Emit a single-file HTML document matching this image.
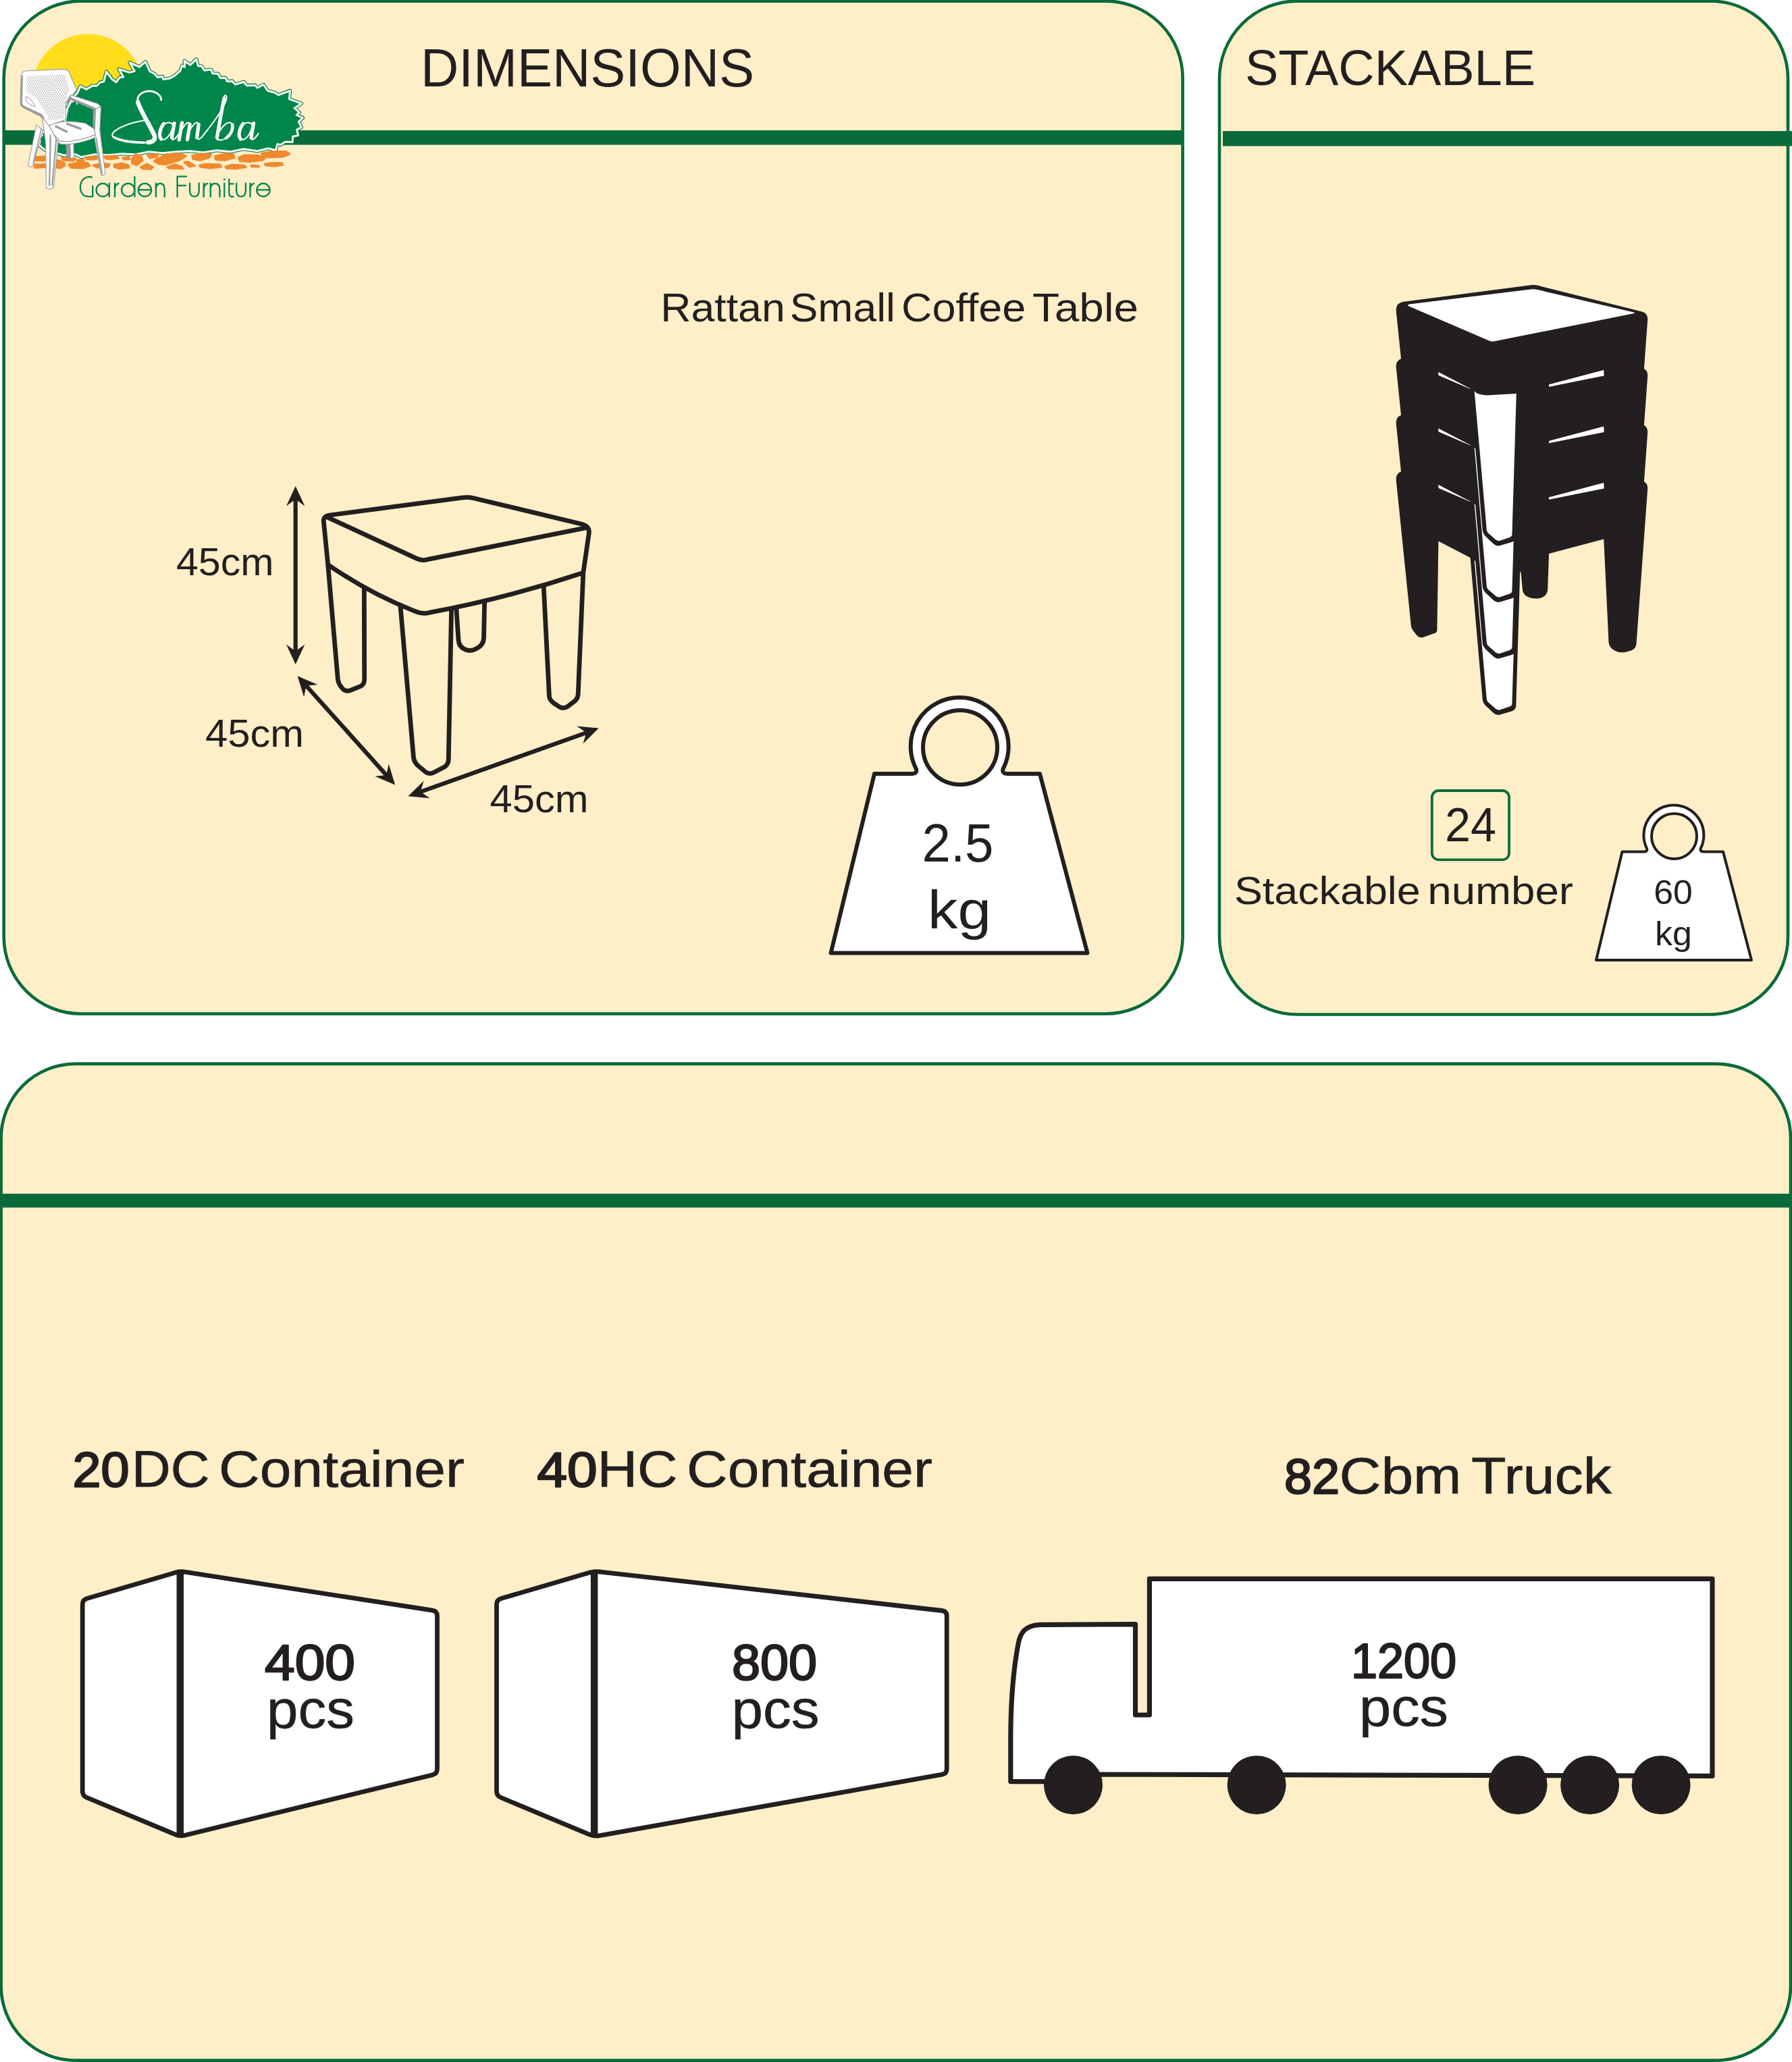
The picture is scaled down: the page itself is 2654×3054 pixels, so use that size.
<!DOCTYPE html>
<html><head><meta charset="utf-8"><title>Samba Garden Furniture - Rattan Small Coffee Table</title>
<style>
html,body{margin:0;padding:0;background:#fff;}
body{width:2654px;height:3054px;overflow:hidden;font-family:"Liberation Sans",sans-serif;}
svg{display:block;}
</style></head><body>
<svg width="2654" height="3054" viewBox="0 0 2654 3054">
<rect x="5.7" y="1.6" width="1745.9" height="1499.9" rx="114" ry="114" fill="#FFEFC8" stroke="#0A6B3A" stroke-width="4.6"/>
<rect x="1806" y="1.6" width="842" height="1500.9" rx="115" ry="115" fill="#FFEFC8" stroke="#0A6B3A" stroke-width="4.6"/>
<rect x="1.6" y="1575.6" width="2650.4" height="1476" rx="110" ry="110" fill="#FFEFC8" stroke="#0A6B3A" stroke-width="4.6"/>
<rect x="4" y="193" width="1749" height="21.5" fill="#0A6B3A"/>
<rect x="1811" y="194.1" width="843" height="22.3" fill="#0A6B3A"/>
<rect x="0" y="1768" width="2654" height="20.5" fill="#0A6B3A"/>
<path d="M 485.7,836.2 L 500.4,1006.8 Q 501.8,1013.9 506.2,1018.4 Q 510.7,1024.6 517.9,1022.9 L 533.5,1016.6 Q 539.7,1013.9 539.7,1005.9 L 539.3,858.6" fill="none" stroke="#231F20" stroke-width="6.8" stroke-linejoin="round" stroke-linecap="round"/>
<path d="M 592.0,886.2 L 612.5,1122.0 Q 613.4,1129.1 619.6,1134.5 L 630.4,1143.4 Q 636.6,1147.9 643.8,1143.4 L 658.9,1135.4 Q 664.3,1131.8 664.3,1124.6 L 668.8,889.8" fill="none" stroke="#231F20" stroke-width="6.8" stroke-linejoin="round" stroke-linecap="round"/>
<path d="M 675.0,889.8 L 679.0,947.9 Q 679.9,957.7 687.5,961.2 Q 695.5,965.7 704.5,961.2 Q 716.1,955.9 716.5,945.2 L 717.9,879.1" fill="none" stroke="#231F20" stroke-width="6.8" stroke-linejoin="round" stroke-linecap="round"/>
<path d="M 804.5,855.0 L 813.4,1030.9 Q 813.8,1037.1 820.5,1041.6 L 828.6,1047.0 Q 834.4,1050.5 841.1,1046.1 L 850.9,1038.5 Q 855.8,1034.5 856.2,1028.2 L 863.8,848.3" fill="none" stroke="#231F20" stroke-width="6.8" stroke-linejoin="round" stroke-linecap="round"/>
<path d="M 485.7,836.2 L 479.5,773.8 Q 477.7,764.8 487.9,763.0 L 684.4,737.1 Q 693.3,735.8 702.2,738.0 L 860.7,776.0 Q 873.2,779.1 872.3,789.4 L 863.8,848.3 Q 750.0,886.2 636.6,907.2 Q 624.1,910.4 612.9,904.6 Q 546.0,878.2 485.7,836.2 Z" fill="#FFEFC8" stroke="#231F20" stroke-width="6.8" stroke-linejoin="round" stroke-linecap="round"/>
<path d="M 483.9,765.7 L 617.4,827.3 Q 624.1,830.9 633.0,828.7 L 867.0,781.8" fill="none" stroke="#231F20" stroke-width="6.8" stroke-linejoin="round" stroke-linecap="round"/>
<line x1="437.7" y1="728.0" x2="437.7" y2="976.0" stroke="#231F20" stroke-width="6.2"/>
<polygon points="437.7,720.0 424.0,749.5 437.7,739.5 451.4,749.5" fill="#231F20"/>
<polygon points="437.7,984.0 424.0,954.5 437.7,964.5 451.4,954.5" fill="#231F20"/>
<line x1="445.9" y1="1007.2" x2="579.9" y2="1156.6" stroke="#231F20" stroke-width="6.2"/>
<polygon points="440.6,1001.2 450.1,1032.3 453.6,1015.7 470.5,1014.0" fill="#231F20"/>
<polygon points="585.2,1162.6 555.3,1149.8 572.2,1148.1 575.7,1131.5" fill="#231F20"/>
<line x1="611.9" y1="1176.6" x2="879.2" y2="1081.3" stroke="#231F20" stroke-width="6.2"/>
<polygon points="604.4,1179.3 636.8,1182.3 622.7,1172.8 627.6,1156.5" fill="#231F20"/>
<polygon points="886.7,1078.6 863.5,1101.4 868.4,1085.1 854.3,1075.6" fill="#231F20"/>
<path d="M1230.5,1411.5 L1295,1146 L1349.9,1146 Q1358.9,1146 1356.9,1139 A72.5,72.5 0 1 1 1485.5,1139 Q1483.5,1146 1492.5,1146 L1540,1146 L1610.5,1411.5 Z" fill="#fff" stroke="#231F20" stroke-width="6" stroke-linejoin="round"/>
<circle cx="1422" cy="1107" r="55" fill="#FFEFC8" stroke="#231F20" stroke-width="6"/>
<path d="M2364,1422 L2402.5,1261.5 L2433.9,1261.5 Q2440.9,1261.5 2438.9,1256.5 A44.5,44.5 0 1 1 2518.9,1256.5 Q2516.9,1261.5 2523.9,1261.5 L2552,1261.5 L2594,1422 Z" fill="#fff" stroke="#231F20" stroke-width="4" stroke-linejoin="round"/>
<circle cx="2479.5" cy="1238.4" r="33.5" fill="#FFEFC8" stroke="#231F20" stroke-width="4"/>
<rect x="2120.8" y="1171" width="114.2" height="102.4" rx="10" ry="10" fill="none" stroke="#0A6B3A" stroke-width="3.8"/>
<path d="M273.7,2328.1 Q266.8,2327.0 260.1,2329.0 L128.9,2367.5 Q122.2,2369.5 122.2,2376.5 L122.2,2652.7 Q122.2,2659.7 128.7,2662.4 L260.3,2717.3 Q266.8,2720 273.6,2718.3 L640.7,2628.7 Q647.5,2627 647.5,2620.0 L647.5,2393.3 Q647.5,2386.3 640.6,2385.2 Z" fill="#fff" stroke="#231F20" stroke-width="6.8" stroke-linejoin="round"/>
<path d="M266.8,2329 L266.8,2718" fill="none" stroke="#231F20" stroke-width="10.5"/>
<path d="M887.1,2327.8 Q880.1,2327.0 873.4,2329.0 L742.2,2367.5 Q735.5,2369.5 735.5,2376.5 L735.5,2652.7 Q735.5,2659.7 742.0,2662.4 L873.6,2717.3 Q880.1,2720 887.0,2718.8 L1395.3,2628.2 Q1402.2,2627 1402.2,2620.0 L1402.2,2393.3 Q1402.2,2386.3 1395.2,2385.5 Z" fill="#fff" stroke="#231F20" stroke-width="6.8" stroke-linejoin="round"/>
<path d="M880.1,2329 L880.1,2718" fill="none" stroke="#231F20" stroke-width="10.5"/>
<path d="M1496.8,2638.6 L1496.8,2571.7 C1497,2520 1500,2478 1507.8,2435.8 C1511,2418 1518,2407.5 1540,2406.3 L1681.5,2405.6 L1681.5,2540 L1702.4,2540 L1702.4,2338.4 L2536,2338.4 L2536,2630.3 L1600,2628 L1590,2638.6 Z" fill="#fff" stroke="#231F20" stroke-width="7.2" stroke-linejoin="round"/>
<circle cx="1589.5" cy="2643.7" r="43.5" fill="#231F20"/>
<circle cx="1861.1" cy="2643.7" r="43.5" fill="#231F20"/>
<circle cx="2248.1" cy="2643.7" r="43.5" fill="#231F20"/>
<circle cx="2354.6" cy="2643.7" r="43.5" fill="#231F20"/>
<circle cx="2460.1" cy="2643.7" r="43.5" fill="#231F20"/>
<path d="M 2067.7,710.7 Q 2067.0,699.6 2078.1,697.6 L 2267.1,672.8 Q 2272.0,671.9 2277.7,673.3 L 2431.6,711.9 Q 2440.7,714.3 2440.2,723.7 L 2423.5,953.7 Q 2423.0,960.4 2415.7,963.6 Q 2400.9,969.0 2391.1,963.6 Q 2383.0,958.6 2382.5,951.3 L 2375.2,798.6 L 2294.1,819.9 L 2292.2,872.7 Q 2291.7,882.5 2281.9,885.7 Q 2270.8,888.2 2262.2,883.8 Q 2255.3,880.1 2254.8,872.7 L 2252.4,846.9 L 2251.2,846.9 L 2245.3,1045.8 Q 2244.8,1051.2 2239.4,1053.2 L 2221.7,1058.6 Q 2216.3,1060.1 2211.9,1056.1 L 2199.6,1044.6 Q 2196.4,1041.4 2195.7,1036.5 L 2177.5,826.1 L 2130.4,801.5 L 2128.4,932.9 Q 2128.4,937.3 2123.5,938.3 L 2107.5,943.9 Q 2101.4,945.1 2097.7,940.2 L 2092.1,932.9 Q 2090.1,930.4 2089.8,926.7 Z" fill="#231F20"/>
<path d="M 2085.4,703.5 Q 2083.7,702.1 2087.9,701.1 L 2267.1,679.0 Q 2272.0,678.2 2276.9,679.5 L 2419.4,712.9 Q 2423.0,713.8 2419.4,714.8 L 2213.1,756.1 Q 2209.4,757.1 2205.7,755.3 Z" fill="#fff"/>
<path d="M 2183.6,829.7 Q 2187.3,835.1 2202.1,835.9 L 2245.8,833.4 L 2239.4,1042.4 Q 2239.1,1045.3 2236.4,1046.3 L 2221.7,1051.2 Q 2218.0,1052.2 2215.1,1049.7 L 2204.0,1039.9 Q 2202.1,1038.0 2201.8,1035.0 Z" fill="#fff"/>
<path d="M 2067.7,627.2 Q 2067.0,616.1 2078.1,614.1 L 2267.1,589.3 Q 2272.0,588.4 2277.7,589.8 L 2431.6,628.4 Q 2440.7,630.8 2440.2,640.2 L 2423.5,870.2 Q 2423.0,876.9 2415.7,880.1 Q 2400.9,885.5 2391.1,880.1 Q 2383.0,875.1 2382.5,867.8 L 2375.2,715.1 L 2294.1,736.4 L 2292.2,789.2 Q 2291.7,799.0 2281.9,802.2 Q 2270.8,804.7 2262.2,800.3 Q 2255.3,796.6 2254.8,789.2 L 2252.4,763.4 L 2251.2,763.4 L 2245.3,962.3 Q 2244.8,967.7 2239.4,969.7 L 2221.7,975.1 Q 2216.3,976.6 2211.9,972.6 L 2199.6,961.1 Q 2196.4,957.9 2195.7,953.0 L 2177.5,742.6 L 2130.4,718.0 L 2128.4,849.4 Q 2128.4,853.8 2123.5,854.8 L 2107.5,860.4 Q 2101.4,861.6 2097.7,856.7 L 2092.1,849.4 Q 2090.1,846.9 2089.8,843.2 Z" fill="#231F20"/>
<path d="M 2085.4,620.0 Q 2083.7,618.6 2087.9,617.6 L 2267.1,595.5 Q 2272.0,594.7 2276.9,596.0 L 2419.4,629.4 Q 2423.0,630.3 2419.4,631.3 L 2213.1,672.6 Q 2209.4,673.6 2205.7,671.8 Z" fill="#fff"/>
<path d="M 2183.6,746.2 Q 2187.3,751.6 2202.1,752.4 L 2245.8,749.9 L 2239.4,958.9 Q 2239.1,961.8 2236.4,962.8 L 2221.7,967.7 Q 2218.0,968.7 2215.1,966.2 L 2204.0,956.4 Q 2202.1,954.5 2201.8,951.5 Z" fill="#fff"/>
<path d="M 2067.7,543.7 Q 2067.0,532.6 2078.1,530.6 L 2267.1,505.8 Q 2272.0,504.9 2277.7,506.3 L 2431.6,544.9 Q 2440.7,547.3 2440.2,556.7 L 2423.5,786.7 Q 2423.0,793.4 2415.7,796.6 Q 2400.9,802.0 2391.1,796.6 Q 2383.0,791.6 2382.5,784.3 L 2375.2,631.6 L 2294.1,652.9 L 2292.2,705.7 Q 2291.7,715.5 2281.9,718.7 Q 2270.8,721.2 2262.2,716.8 Q 2255.3,713.1 2254.8,705.7 L 2252.4,679.9 L 2251.2,679.9 L 2245.3,878.8 Q 2244.8,884.2 2239.4,886.2 L 2221.7,891.6 Q 2216.3,893.1 2211.9,889.1 L 2199.6,877.6 Q 2196.4,874.4 2195.7,869.5 L 2177.5,659.1 L 2130.4,634.5 L 2128.4,765.9 Q 2128.4,770.3 2123.5,771.3 L 2107.5,776.9 Q 2101.4,778.1 2097.7,773.2 L 2092.1,765.9 Q 2090.1,763.4 2089.8,759.7 Z" fill="#231F20"/>
<path d="M 2085.4,536.5 Q 2083.7,535.1 2087.9,534.1 L 2267.1,512.0 Q 2272.0,511.2 2276.9,512.5 L 2419.4,545.9 Q 2423.0,546.8 2419.4,547.8 L 2213.1,589.1 Q 2209.4,590.1 2205.7,588.3 Z" fill="#fff"/>
<path d="M 2183.6,662.7 Q 2187.3,668.1 2202.1,668.9 L 2245.8,666.4 L 2239.4,875.4 Q 2239.1,878.3 2236.4,879.3 L 2221.7,884.2 Q 2218.0,885.2 2215.1,882.7 L 2204.0,872.9 Q 2202.1,871.0 2201.8,868.0 Z" fill="#fff"/>
<path d="M 2067.7,460.2 Q 2067.0,449.1 2078.1,447.1 L 2267.1,422.3 Q 2272.0,421.4 2277.7,422.8 L 2431.6,461.4 Q 2440.7,463.8 2440.2,473.2 L 2423.5,703.2 Q 2423.0,709.9 2415.7,713.1 Q 2400.9,718.5 2391.1,713.1 Q 2383.0,708.1 2382.5,700.8 L 2375.2,548.1 L 2294.1,569.4 L 2292.2,622.2 Q 2291.7,632.0 2281.9,635.2 Q 2270.8,637.7 2262.2,633.3 Q 2255.3,629.6 2254.8,622.2 L 2252.4,596.4 L 2251.2,596.4 L 2245.3,795.3 Q 2244.8,800.7 2239.4,802.7 L 2221.7,808.1 Q 2216.3,809.6 2211.9,805.6 L 2199.6,794.1 Q 2196.4,790.9 2195.7,786.0 L 2177.5,575.6 L 2130.4,551.0 L 2128.4,682.4 Q 2128.4,686.8 2123.5,687.8 L 2107.5,693.4 Q 2101.4,694.6 2097.7,689.7 L 2092.1,682.4 Q 2090.1,679.9 2089.8,676.2 Z" fill="#231F20"/>
<path d="M 2085.4,453.0 Q 2083.7,451.6 2087.9,450.6 L 2267.1,428.5 Q 2272.0,427.7 2276.9,429.0 L 2419.4,462.4 Q 2423.0,463.3 2419.4,464.3 L 2213.1,505.6 Q 2209.4,506.6 2205.7,504.8 Z" fill="#fff"/>
<path d="M 2183.6,579.2 Q 2187.3,584.6 2202.1,585.4 L 2245.8,582.9 L 2239.4,791.9 Q 2239.1,794.8 2236.4,795.8 L 2221.7,800.7 Q 2218.0,801.7 2215.1,799.2 L 2204.0,789.4 Q 2202.1,787.5 2201.8,784.5 Z" fill="#fff"/>
<g id="logo">
<clipPath id="sunclip"><rect x="30" y="40" width="220" height="100"/></clipPath>
<circle cx="130.3" cy="132.9" r="82.6" fill="#FFDD1A" clip-path="url(#sunclip)"/>
<polygon points="95.2,185.4 100,160 108,145 115.1,137.0 119,127.6 128.1,132.3 136.8,127 143.9,126.9 147.9,122.1 153.6,120.9 157.7,106.1 165.9,117.3 172.2,121.7 177.3,114.7 182.7,114.0 176.1,102.4 192.0,107.4 199.4,105.4 192.1,92.6 206.5,99.2 215.4,91.4 221.7,105.4 229,109.5 233.0,114.4 240.6,113.2 241.7,117.5 251.2,116.1 258.6,112.2 266.7,105.2 269.7,97.1 273.6,99.1 273.2,90.1 281.9,96.2 290.8,87.7 293.5,97.6 298.9,98.1 302.6,104.2 312.9,103.1 314.7,108.8 323,109.2 326.2,115.5 334,115.2 336.4,120.6 344.1,120.2 348.4,125.0 361.1,121.2 365.5,126.7 378.2,126.2 381.0,130.0 390.3,125.2 396.5,134.5 407.4,137.3 412.6,140.7 429.5,134.3 428.5,146.7 446.5,153.4 436.2,160.2 443.5,166.4 439.2,170.4 448.5,174.5 442.3,180.2 446.5,188.5 439.8,191.9 441.5,200.6 433.6,202.3 433.5,210.6 422.5,210.0 415.4,214.6 410.9,213.4 408.4,222.7 397.3,219.7 381.2,223.7 361.1,220.7 341.1,224.7 321,222.7 300.9,225.7 280.8,223.7 260.7,224.7 240.6,226.7 220.5,224.7 200.4,228.7 180.4,227.7 160.3,229.7 140.2,228.7 120.1,232.7 112,228.7 95,230 80,226 72,224.6 65,221 58,215 59.3,208.8 56,200 62.2,201.1 62,195 70.6,196.1 74,190 84,194" fill="#00854A" stroke="#0A6B3A" stroke-width="5.2" stroke-linejoin="round"/>
<polygon points="95.2,185.4 100,160 108,145 115.1,137.0 119,127.6 128.1,132.3 136.8,127 143.9,126.9 147.9,122.1 153.6,120.9 157.7,106.1 165.9,117.3 172.2,121.7 177.3,114.7 182.7,114.0 176.1,102.4 192.0,107.4 199.4,105.4 192.1,92.6 206.5,99.2 215.4,91.4 221.7,105.4 229,109.5 233.0,114.4 240.6,113.2 241.7,117.5 251.2,116.1 258.6,112.2 266.7,105.2 269.7,97.1 273.6,99.1 273.2,90.1 281.9,96.2 290.8,87.7 293.5,97.6 298.9,98.1 302.6,104.2 312.9,103.1 314.7,108.8 323,109.2 326.2,115.5 334,115.2 336.4,120.6 344.1,120.2 348.4,125.0 361.1,121.2 365.5,126.7 378.2,126.2 381.0,130.0 390.3,125.2 396.5,134.5 407.4,137.3 412.6,140.7 429.5,134.3 428.5,146.7 446.5,153.4 436.2,160.2 443.5,166.4 439.2,170.4 448.5,174.5 442.3,180.2 446.5,188.5 439.8,191.9 441.5,200.6 433.6,202.3 433.5,210.6 422.5,210.0 415.4,214.6 410.9,213.4 408.4,222.7 397.3,219.7 381.2,223.7 361.1,220.7 341.1,224.7 321,222.7 300.9,225.7 280.8,223.7 260.7,224.7 240.6,226.7 220.5,224.7 200.4,228.7 180.4,227.7 160.3,229.7 140.2,228.7 120.1,232.7 112,228.7 95,230 80,226 72,224.6 65,221 58,215 59.3,208.8 56,200 62.2,201.1 62,195 70.6,196.1 74,190 84,194" fill="#00854A" stroke="#F2FFF6" stroke-width="3.0" stroke-linejoin="round"/>
<path d="M99,150 L106,143 L108,151 L113,146 L114,155" fill="none" stroke="#F2FFF6" stroke-width="1.6"/>
<polygon points="51.1,232.8 67.4,231.5 71.8,235.7 63.1,238.3 51.1,237.6" fill="#F0892E" stroke="#F0892E" stroke-width="2.4" stroke-linejoin="round"/>
<polygon points="90.9,233.7 104.4,232.6 112.7,235.7 108.3,238.3 94.0,237.6" fill="#F0892E" stroke="#F0892E" stroke-width="2.4" stroke-linejoin="round"/>
<polygon points="126.6,232.6 141.4,231.5 147.5,234.6 137.1,236.5 127.7,235.7" fill="#F0892E" stroke="#F0892E" stroke-width="2.4" stroke-linejoin="round"/>
<polygon points="154.9,231.5 171.9,230.5 175.8,234.2 163.2,236.1 156.0,235.0" fill="#F0892E" stroke="#F0892E" stroke-width="2.4" stroke-linejoin="round"/>
<polygon points="181.0,233.7 191.5,232.2 192.3,235.7 184.1,236.5" fill="#F0892E" stroke="#F0892E" stroke-width="2.4" stroke-linejoin="round"/>
<polygon points="200.6,228.5 208.9,230.5 211.7,237.6 202.3,245.0 195.4,242.0 195.2,234.8" fill="#F0892E" stroke="#F0892E" stroke-width="2.4" stroke-linejoin="round"/>
<polygon points="218.0,229.4 234.5,228.3 232.4,232.4 221.9,234.4" fill="#F0892E" stroke="#F0892E" stroke-width="2.4" stroke-linejoin="round"/>
<polygon points="231.1,235.9 245.9,228.5 267.6,227.4 275.9,231.3 267.6,236.5 245.9,243.9 235.4,243.1 228.0,238.9" fill="#F0892E" stroke="#F0892E" stroke-width="2.4" stroke-linejoin="round"/>
<polygon points="284.4,230.5 298.1,227.4 312.9,228.3 310.7,233.5 295.9,237.6 285.5,235.5" fill="#F0892E" stroke="#F0892E" stroke-width="2.4" stroke-linejoin="round"/>
<polygon points="318.1,231.5 332.9,227.4 345.5,228.3 347.7,233.5 332.9,237.6 319.2,236.5" fill="#F0892E" stroke="#F0892E" stroke-width="2.4" stroke-linejoin="round"/>
<polygon points="352.9,233.7 361.2,229.6 380.8,229.6 393.4,233.7 389.1,237.6 369.9,239.8 355.1,238.7" fill="#F0892E" stroke="#F0892E" stroke-width="2.4" stroke-linejoin="round"/>
<polygon points="386.7,227.2 402.6,224.1 423.9,224.1 429.3,228.1 420.0,232.2 398.2,233.3 388.8,231.3" fill="#F0892E" stroke="#F0892E" stroke-width="2.4" stroke-linejoin="round"/>
<polygon points="78.7,242.4 93.5,241.3 96.4,245.5 89.2,249.2 78.7,247.4" fill="#F0892E" stroke="#F0892E" stroke-width="2.4" stroke-linejoin="round"/>
<polygon points="101.6,243.5 115.3,240.5 130.1,241.3 133.4,245.5 124.0,249.2 104.8,248.5" fill="#F0892E" stroke="#F0892E" stroke-width="2.4" stroke-linejoin="round"/>
<polygon points="137.5,244.6 152.3,241.6 162.7,243.5 160.6,247.4 144.0,248.5" fill="#F0892E" stroke="#F0892E" stroke-width="2.4" stroke-linejoin="round"/>
<polygon points="169.0,243.5 180.6,241.6 191.0,244.6 191.0,248.5 176.2,250.0 169.0,247.4" fill="#F0892E" stroke="#F0892E" stroke-width="2.4" stroke-linejoin="round"/>
<polygon points="208.2,247.6 217.6,242.6 226.9,247.6 223.7,250.7 210.4,250.0" fill="#F0892E" stroke="#F0892E" stroke-width="2.4" stroke-linejoin="round"/>
<polygon points="247.4,247.6 258.9,243.3 269.4,246.8 271.5,250.0 250.7,249.6" fill="#F0892E" stroke="#F0892E" stroke-width="2.4" stroke-linejoin="round"/>
<polygon points="272.4,240.2 278.5,239.4 289.0,245.5 280.7,247.0" fill="#F0892E" stroke="#F0892E" stroke-width="2.4" stroke-linejoin="round"/>
<polygon points="295.3,244.6 304.6,242.6 326.0,243.5 328.1,247.4 311.2,249.2 296.4,247.4" fill="#F0892E" stroke="#F0892E" stroke-width="2.4" stroke-linejoin="round"/>
<polygon points="333.4,246.8 343.8,243.7 360.8,244.6 365.1,247.6 350.3,250.0 335.5,249.6" fill="#F0892E" stroke="#F0892E" stroke-width="2.4" stroke-linejoin="round"/>
<polygon points="371.4,244.6 383.0,245.3 383.6,247.4 372.5,247.0" fill="#F0892E" stroke="#F0892E" stroke-width="2.4" stroke-linejoin="round"/>
<polygon points="392.1,242.4 402.6,241.1 417.4,241.3 419.5,244.4 406.9,246.3 393.2,245.3" fill="#F0892E" stroke="#F0892E" stroke-width="2.4" stroke-linejoin="round"/>
<polygon points="83.1,237.0 90.3,238.5 96.4,242.0 87.4,242.0" fill="#F0892E" stroke="#F0892E" stroke-width="2.4" stroke-linejoin="round"/>
<polygon points="51.1,243.5 69.6,243.1 71.3,247.4 51.1,248.9" fill="#F0892E" stroke="#F0892E" stroke-width="2.4" stroke-linejoin="round"/>
<polygon points="113.5,237.0 124.0,236.5 124.6,238.7 115.7,239.2" fill="#F0892E" stroke="#F0892E" stroke-width="2.4" stroke-linejoin="round"/>
<path d="M 238.7,148.0 C 239.1,140.5 228.8,133.4 216.5,135.3 C 207.6,137.1 202.2,143.9 204.2,151.4" fill="none" stroke="#fff" stroke-width="2.8" stroke-linecap="round" stroke-linejoin="round"/>
<path d="M 204.2,151.4 C 209.0,165.8 223.4,188.4 228.6,200.4 C 230.9,207.5 226.1,210.5 219.3,210.9" fill="none" stroke="#fff" stroke-width="6.4" stroke-linecap="round" stroke-linejoin="round"/>
<path d="M 219.3,210.9 C 200.1,211.3 176.9,208.9 168.0,203.4 C 163.2,199.3 168.7,193.8 178.2,189.0 C 189.2,183.6 201.5,180.2 213.1,178.5" fill="none" stroke="#fff" stroke-width="2.0" stroke-linecap="round" stroke-linejoin="round"/>
<path d="M 213.8,211.2 C 194.6,211.1 178.2,208.3 169.4,203.7" fill="none" stroke="#fff" stroke-width="3.6" stroke-linecap="round" stroke-linejoin="round"/>
<path d="M 256.9,184.9 C 250.7,178.8 242.5,181.5 238.4,189.7 C 233.6,199.3 235.7,207.5 242.5,206.8 C 249.3,205.5 255.5,193.8 257.8,182.2" fill="none" stroke="#fff" stroke-width="2.0" stroke-linecap="round" stroke-linejoin="round"/>
<path d="M 242.5,183.2 C 236.8,190.4 234.6,200.7 238.7,206.1" fill="none" stroke="#fff" stroke-width="5.0" stroke-linecap="round" stroke-linejoin="round"/>
<path d="M 257.8,182.2 C 256.2,191.1 252.8,202.0 254.5,205.9 C 256.9,208.9 261.6,203.4 265.1,197.9" fill="none" stroke="#fff" stroke-width="2.0" stroke-linecap="round" stroke-linejoin="round"/>
<path d="M 258.0,182.6 L 254.4,203.7" fill="none" stroke="#fff" stroke-width="5.2" stroke-linecap="round" stroke-linejoin="round"/>
<path d="M 269.6,181.8 L 265.2,207.0" fill="none" stroke="#fff" stroke-width="5.2" stroke-linecap="round" stroke-linejoin="round"/>
<path d="M 266.8,197.2 C 271.2,187.0 276.7,180.2 280.1,181.8 C 283.5,184.3 278.7,196.6 277.4,207.0" fill="none" stroke="#fff" stroke-width="2.0" stroke-linecap="round" stroke-linejoin="round"/>
<path d="M 281.2,184.3 L 277.5,206.7" fill="none" stroke="#fff" stroke-width="5.2" stroke-linecap="round" stroke-linejoin="round"/>
<path d="M 279.0,197.2 C 283.5,187.0 289.7,180.2 292.8,181.8 C 296.5,184.3 290.4,197.9 292.0,204.8 C 293.4,208.9 298.6,204.1 302.4,198.6" fill="none" stroke="#fff" stroke-width="2.0" stroke-linecap="round" stroke-linejoin="round"/>
<path d="M 294.2,184.3 L 291.6,203.7" fill="none" stroke="#fff" stroke-width="5.2" stroke-linecap="round" stroke-linejoin="round"/>
<path d="M 302.4,198.6 C 316.3,181.5 331.4,161.0 335.2,147.3 C 336.6,141.9 333.4,139.1 332.1,142.6 C 329.3,155.5 324.5,181.5 321.1,202.7 C 320.7,207.5 322.5,207.5 323.9,206.8" fill="none" stroke="#fff" stroke-width="2.0" stroke-linecap="round" stroke-linejoin="round"/>
<path d="M 331.8,146.0 C 329.3,159.6 324.5,184.3 321.4,203.7" fill="none" stroke="#fff" stroke-width="5.2" stroke-linecap="round" stroke-linejoin="round"/>
<path d="M 322.9,198.6 C 328.6,187.0 336.8,179.5 342.0,182.2 C 346.4,185.6 342.3,197.9 335.5,204.1 C 330.0,208.6 323.9,208.2 322.1,205.5" fill="none" stroke="#fff" stroke-width="2.0" stroke-linecap="round" stroke-linejoin="round"/>
<path d="M 344.2,184.5 C 345.3,192.5 341.2,200.0 335.2,204.4" fill="none" stroke="#fff" stroke-width="4.6" stroke-linecap="round" stroke-linejoin="round"/>
<path d="M 374.4,184.9 C 368.3,178.8 360.1,181.5 356.0,189.7 C 351.2,199.3 353.2,207.5 360.1,206.8 C 366.9,205.5 373.1,193.8 375.4,182.2" fill="none" stroke="#fff" stroke-width="2.0" stroke-linecap="round" stroke-linejoin="round"/>
<path d="M 360.1,183.2 C 354.3,190.4 352.2,200.7 356.3,206.1" fill="none" stroke="#fff" stroke-width="5.0" stroke-linecap="round" stroke-linejoin="round"/>
<path d="M 375.4,182.2 C 373.8,191.1 370.3,202.0 372.1,205.9 C 374.4,208.9 379.2,203.4 382.6,197.9" fill="none" stroke="#fff" stroke-width="2.0" stroke-linecap="round" stroke-linejoin="round"/>
<path d="M 375.5,182.6 L 372.0,203.7" fill="none" stroke="#fff" stroke-width="5.2" stroke-linecap="round" stroke-linejoin="round"/>
<path d="M136.8,262.9 C128,259.3 118.95,266 118.95,277 C118.95,286 124,291.05 131,291.05 L137.3,291.05 L137.3,274.5" fill="none" stroke="#00854A" stroke-width="2.3" stroke-linejoin="round"/>
<circle cx="152.25" cy="281.4" r="9.65" fill="none" stroke="#00854A" stroke-width="2.3"/>
<path d="M161.9,270.6 L161.9,292.2" fill="none" stroke="#00854A" stroke-width="2.3" stroke-linejoin="round"/>
<path d="M170,270.6 L170,292.2" fill="none" stroke="#00854A" stroke-width="2.3" stroke-linejoin="round"/>
<path d="M170,281.5 Q170.3,271.75 176.6,271.75" fill="none" stroke="#00854A" stroke-width="2.3" stroke-linejoin="round"/>
<circle cx="189.75" cy="281.4" r="9.65" fill="none" stroke="#00854A" stroke-width="2.3"/>
<path d="M199.4,261.1 L199.4,292.2" fill="none" stroke="#00854A" stroke-width="2.3" stroke-linejoin="round"/>
<circle cx="214.45" cy="281.4" r="9.65" fill="none" stroke="#00854A" stroke-width="2.3"/>
<path d="M204.79999999999998,281.2 L224.1,281.2" fill="none" stroke="#00854A" stroke-width="2.3" stroke-linejoin="round"/>
<path d="M230.9,270.6 L230.9,292.2" fill="none" stroke="#00854A" stroke-width="2.3" stroke-linejoin="round"/>
<path d="M230.9,281 Q230.9,271.75 237.3,271.75 Q243.7,271.75 243.7,281 L243.7,292.2" fill="none" stroke="#00854A" stroke-width="2.3" stroke-linejoin="round"/>
<path d="M262.6,292.2 L262.6,261.3 L276.9,261.3" fill="none" stroke="#00854A" stroke-width="2.3" stroke-linejoin="round"/>
<path d="M262.6,274.8 L276.1,274.8" fill="none" stroke="#00854A" stroke-width="2.3" stroke-linejoin="round"/>
<path d="M281.1,270.6 L281.1,282 Q281.1,291.05 287.9,291.05 Q294.7,291.05 294.7,282 L294.7,270.6" fill="none" stroke="#00854A" stroke-width="2.3" stroke-linejoin="round"/>
<path d="M301.7,270.6 L301.7,292.2" fill="none" stroke="#00854A" stroke-width="2.3" stroke-linejoin="round"/>
<path d="M301.7,281.5 Q302.0,271.75 308.3,271.75" fill="none" stroke="#00854A" stroke-width="2.3" stroke-linejoin="round"/>
<path d="M311.8,270.6 L311.8,292.2" fill="none" stroke="#00854A" stroke-width="2.3" stroke-linejoin="round"/>
<path d="M311.8,281 Q311.8,271.75 318.6,271.75 Q325.4,271.75 325.4,281 L325.4,292.2" fill="none" stroke="#00854A" stroke-width="2.3" stroke-linejoin="round"/>
<path d="M332.3,270.6 L332.3,292.2" fill="none" stroke="#00854A" stroke-width="2.3" stroke-linejoin="round"/>
<circle cx="332.3" cy="265.8" r="1.45" fill="#00854A"/>
<path d="M339.3,264.5 L339.3,286 Q339.3,291.4 344,291.4 L346.6,291.4" fill="none" stroke="#00854A" stroke-width="2.3" stroke-linejoin="round"/>
<path d="M339.3,272.3 L346.6,272.3" fill="none" stroke="#00854A" stroke-width="2.3" stroke-linejoin="round"/>
<path d="M350.1,270.6 L350.1,282 Q350.1,291.05 357.0,291.05 Q363.9,291.05 363.9,282 L363.9,270.6" fill="none" stroke="#00854A" stroke-width="2.3" stroke-linejoin="round"/>
<path d="M370.5,270.6 L370.5,292.2" fill="none" stroke="#00854A" stroke-width="2.3" stroke-linejoin="round"/>
<path d="M370.5,281.5 Q370.8,271.75 377.1,271.75" fill="none" stroke="#00854A" stroke-width="2.3" stroke-linejoin="round"/>
<circle cx="389.95" cy="281.4" r="9.65" fill="none" stroke="#00854A" stroke-width="2.3"/>
<path d="M380.3,281.2 L399.59999999999997,281.2" fill="none" stroke="#00854A" stroke-width="2.3" stroke-linejoin="round"/>
<path d="M 97.6,211.3 L 98.8,233.6 L 104.6,234.8 L 103.6,211.8 Z" fill="#9B9B9B" stroke="#9B9B9B" stroke-width="0.6" stroke-linejoin="round" stroke-linecap="round"/>
<path d="M 103.6,211.8 L 104.6,234.8 L 109.5,233.6 L 108.9,211.3 Z" fill="#FCFCFC" stroke="#9B9B9B" stroke-width="1.1" stroke-linejoin="round" stroke-linecap="round"/>
<path d="M 54.0,185.1 L 41.5,244.3 Q 41.8,247.7 48.3,247.0 L 63.7,192.8 Z" fill="#FCFCFC" stroke="#9B9B9B" stroke-width="1.1" stroke-linejoin="round" stroke-linecap="round"/>
<path d="M 61.2,190.9 L 49.1,241.4" fill="none" stroke="#9B9B9B" stroke-width="1.6" stroke-linejoin="round" stroke-linecap="round"/>
<path d="M 141.3,160.8 L 149.5,157.9 L 147.9,192.8 L 156.0,257.1 Q 153.9,259.8 150.0,259.6 L 139.9,203.5 Z" fill="#FCFCFC" stroke="#9B9B9B" stroke-width="1.1" stroke-linejoin="round" stroke-linecap="round"/>
<path d="M 142.4,204.5 L 151.2,256.9" fill="none" stroke="#9B9B9B" stroke-width="2.0" stroke-linejoin="round" stroke-linecap="round"/>
<path d="M 31.4,112.3 Q 31.6,106.0 37.9,105.0 L 95.2,102.4 Q 100.0,102.4 102.0,106.5 L 113.6,133.2 L 97.6,153.1 L 97.1,177.3 L 72.4,186.1 L 61.7,172.5 L 49.1,166.6 L 33.1,158.4 Q 30.2,156.0 30.2,152.1 Z" fill="#FCFCFC" stroke="#9B9B9B" stroke-width="1.1" stroke-linejoin="round" stroke-linecap="round"/>
<path d="M 31.4,112.3 L 30.2,152.1 Q 30.2,156.9 33.6,159.1 L 49.1,167.1 L 60.7,172.5 L 63.7,177.8 L 65.6,174.4 L 61.7,169.1 L 50.1,163.7 L 35.5,156.9 Q 32.8,155.0 32.8,152.1 L 33.8,112.3 Z" fill="#9B9B9B" stroke="#9B9B9B" stroke-width="0.5" stroke-linejoin="round" stroke-linecap="round"/>
<pattern id="dots" width="3.3" height="5.6" patternUnits="userSpaceOnUse" patternTransform="rotate(-3)"><circle cx="0.85" cy="0.85" r="0.78" fill="#9B9B9B"/><circle cx="2.5" cy="3.65" r="0.78" fill="#9B9B9B"/></pattern>
<path d="M 39.4,113.3 L 95.7,110.6 L 102.7,131.7 L 96.6,153.1 L 94.2,175.4 L 72.9,177.8 L 68.5,167.6 L 61.7,157.9 L 53.0,144.3 L 39.4,136.6 Z" fill="url(#dots)"/>
<path d="M 38.6,143.2 Q 45.2,144.3 52.5,157.9 Q 44.3,156.0 39.0,150.2 Z" fill="#FCFCFC" stroke="#9B9B9B" stroke-width="1.0" stroke-linejoin="round" stroke-linecap="round"/>
<path d="M 49.1,166.6 L 61.7,172.5 L 72.4,186.1 L 80.6,200.1 L 86.9,203.0 L 79.4,277.7 Q 74.3,281.6 68.5,278.7 L 67.5,211.3 L 63.2,177.8 L 60.7,172.5 Z" fill="#FCFCFC" stroke="#9B9B9B" stroke-width="1.1" stroke-linejoin="round" stroke-linecap="round"/>
<path d="M 74.8,200.6 L 73.2,274.3" fill="none" stroke="#9B9B9B" stroke-width="2.2" stroke-linejoin="round" stroke-linecap="round"/>
<path d="M 83.5,205.0 L 77.4,274.3" fill="none" stroke="#9B9B9B" stroke-width="2.2" stroke-linejoin="round" stroke-linecap="round"/>
<path d="M 97.6,152.1 L 104.6,140.6 L 145.2,153.8 L 149.5,157.9 L 141.3,161.3 L 105.4,145.5 L 100.7,152.6 Z" fill="#FCFCFC" stroke="#9B9B9B" stroke-width="1.1" stroke-linejoin="round" stroke-linecap="round"/>
<path d="M 97.6,152.1 L 104.2,141.6 L 105.8,144.9 L 100.7,152.9 Z" fill="#9B9B9B" stroke="#9B9B9B" stroke-width="0.5" stroke-linejoin="round" stroke-linecap="round"/>
<path d="M 105.8,144.9 L 140.3,159.4 L 141.3,161.8 L 140.8,189.9 L 137.9,188.5 L 137.9,162.0 L 105.4,148.2 Z" fill="#9B9B9B" stroke="#9B9B9B" stroke-width="0.5" stroke-linejoin="round" stroke-linecap="round"/>
<path d="M 72.4,185.9 Q 84.0,181.2 97.6,179.7 Q 113.1,179.7 126.7,182.7 L 139.5,190.9 L 141.3,199.6 Q 126.7,206.4 102.5,209.5 Q 91.8,209.8 87.9,208.4 L 80.3,199.8 Z" fill="#FCFCFC" stroke="#9B9B9B" stroke-width="1.1" stroke-linejoin="round" stroke-linecap="round"/>
<path d="M 80.3,199.8 L 87.9,208.4 Q 91.8,209.8 102.5,209.5 Q 126.7,206.4 141.3,199.6 L 140.3,203.7 Q 126.7,210.3 102.5,213.8 Q 91.8,214.2 87.9,212.4 L 82.1,204.7 Z" fill="#FCFCFC" stroke="#9B9B9B" stroke-width="1.1" stroke-linejoin="round" stroke-linecap="round"/>
<path d="M 82.9,187.3 L 98.8,195.0" fill="none" stroke="#9B9B9B" stroke-width="3.4" stroke-linejoin="round" stroke-linecap="round"/>
<path d="M 99.6,183.3 L 119.2,190.7" fill="none" stroke="#9B9B9B" stroke-width="3.4" stroke-linejoin="round" stroke-linecap="round"/>
</g>
<text x="623" y="128" font-family="Liberation Sans, sans-serif" font-size="80.3" font-weight="400" fill="#231F20" text-anchor="start" textLength="494" lengthAdjust="spacingAndGlyphs">DIMENSIONS</text>
<text x="1844" y="126" font-family="Liberation Sans, sans-serif" font-size="75" font-weight="400" fill="#231F20" text-anchor="start" textLength="430" lengthAdjust="spacingAndGlyphs">STACKABLE</text>
<text x="978.3" y="475.5" font-family="Liberation Sans, sans-serif" font-size="60" font-weight="400" fill="#231F20" text-anchor="start" textLength="184.4" lengthAdjust="spacingAndGlyphs">Rattan</text>
<text x="1169.7" y="475.5" font-family="Liberation Sans, sans-serif" font-size="60" font-weight="400" fill="#231F20" text-anchor="start" textLength="156.2" lengthAdjust="spacingAndGlyphs">Small</text>
<text x="1335" y="475.5" font-family="Liberation Sans, sans-serif" font-size="60" font-weight="400" fill="#231F20" text-anchor="start" textLength="184.3" lengthAdjust="spacingAndGlyphs">Coffee</text>
<text x="1529" y="475.5" font-family="Liberation Sans, sans-serif" font-size="60" font-weight="400" fill="#231F20" text-anchor="start" textLength="157" lengthAdjust="spacingAndGlyphs">Table</text>
<text x="261" y="852" font-family="Liberation Sans, sans-serif" font-size="57" font-weight="400" fill="#231F20" text-anchor="start" textLength="144.5" lengthAdjust="spacingAndGlyphs">45cm</text>
<text x="304" y="1106" font-family="Liberation Sans, sans-serif" font-size="57" font-weight="400" fill="#231F20" text-anchor="start" textLength="146" lengthAdjust="spacingAndGlyphs">45cm</text>
<text x="725.5" y="1202.5" font-family="Liberation Sans, sans-serif" font-size="57" font-weight="400" fill="#231F20" text-anchor="start" textLength="146" lengthAdjust="spacingAndGlyphs">45cm</text>
<text x="1418.5" y="1276" font-family="Liberation Sans, sans-serif" font-size="80" font-weight="400" fill="#231F20" text-anchor="middle" textLength="106" lengthAdjust="spacingAndGlyphs">2.5</text>
<text x="1421" y="1375" font-family="Liberation Sans, sans-serif" font-size="80" font-weight="400" fill="#231F20" text-anchor="middle" textLength="94" lengthAdjust="spacingAndGlyphs">kg</text>
<text x="2178" y="1246" font-family="Liberation Sans, sans-serif" font-size="71" font-weight="400" fill="#231F20" text-anchor="middle" textLength="76" lengthAdjust="spacingAndGlyphs">24</text>
<text x="1828" y="1338.7" font-family="Liberation Sans, sans-serif" font-size="58" font-weight="400" fill="#231F20" text-anchor="start" textLength="275.7" lengthAdjust="spacingAndGlyphs">Stackable</text>
<text x="2114.3" y="1338.7" font-family="Liberation Sans, sans-serif" font-size="58" font-weight="400" fill="#231F20" text-anchor="start" textLength="215.7" lengthAdjust="spacingAndGlyphs">number</text>
<text x="2478" y="1339.2" font-family="Liberation Sans, sans-serif" font-size="50" font-weight="400" fill="#231F20" text-anchor="middle" textLength="57.5" lengthAdjust="spacingAndGlyphs">60</text>
<text x="2478.5" y="1399.7" font-family="Liberation Sans, sans-serif" font-size="50" font-weight="400" fill="#231F20" text-anchor="middle" textLength="55" lengthAdjust="spacingAndGlyphs">kg</text>
<text x="107.5" y="2202.3" font-family="Liberation Sans, sans-serif" font-size="73" font-weight="400" fill="#231F20" text-anchor="start" textLength="84" lengthAdjust="spacingAndGlyphs" stroke="#231F20" stroke-width="2.4" stroke-linejoin="round">20</text>
<text x="195" y="2202.3" font-family="Liberation Sans, sans-serif" font-size="76" font-weight="400" fill="#231F20" text-anchor="start" textLength="115.5" lengthAdjust="spacingAndGlyphs" stroke="#231F20" stroke-width="0.7" stroke-linejoin="round">DC</text>
<text x="324" y="2202.3" font-family="Liberation Sans, sans-serif" font-size="76" font-weight="400" fill="#231F20" text-anchor="start" textLength="364" lengthAdjust="spacingAndGlyphs" stroke="#231F20" stroke-width="0.7" stroke-linejoin="round">Container</text>
<text x="795.5" y="2202.3" font-family="Liberation Sans, sans-serif" font-size="73" font-weight="400" fill="#231F20" text-anchor="start" textLength="89" lengthAdjust="spacingAndGlyphs" stroke="#231F20" stroke-width="2.4" stroke-linejoin="round">40</text>
<text x="884.5" y="2202.3" font-family="Liberation Sans, sans-serif" font-size="76" font-weight="400" fill="#231F20" text-anchor="start" textLength="119" lengthAdjust="spacingAndGlyphs" stroke="#231F20" stroke-width="0.7" stroke-linejoin="round">HC</text>
<text x="1017" y="2202.3" font-family="Liberation Sans, sans-serif" font-size="76" font-weight="400" fill="#231F20" text-anchor="start" textLength="364" lengthAdjust="spacingAndGlyphs" stroke="#231F20" stroke-width="0.7" stroke-linejoin="round">Container</text>
<text x="1902" y="2212" font-family="Liberation Sans, sans-serif" font-size="73" font-weight="400" fill="#231F20" text-anchor="start" textLength="82" lengthAdjust="spacingAndGlyphs" stroke="#231F20" stroke-width="2.4" stroke-linejoin="round">82</text>
<text x="1983.5" y="2212" font-family="Liberation Sans, sans-serif" font-size="76" font-weight="400" fill="#231F20" text-anchor="start" textLength="181" lengthAdjust="spacingAndGlyphs" stroke="#231F20" stroke-width="0.7" stroke-linejoin="round">Cbm</text>
<text x="2179" y="2212" font-family="Liberation Sans, sans-serif" font-size="76" font-weight="400" fill="#231F20" text-anchor="start" textLength="208" lengthAdjust="spacingAndGlyphs" stroke="#231F20" stroke-width="0.7" stroke-linejoin="round">Truck</text>
<text x="459" y="2487.8" font-family="Liberation Sans, sans-serif" font-size="75" font-weight="400" fill="#231F20" text-anchor="middle" textLength="134" lengthAdjust="spacingAndGlyphs" stroke="#231F20" stroke-width="2.4" stroke-linejoin="round">400</text>
<text x="460" y="2559.3" font-family="Liberation Sans, sans-serif" font-size="80" font-weight="400" fill="#231F20" text-anchor="middle" textLength="130" lengthAdjust="spacingAndGlyphs" stroke="#231F20" stroke-width="0.6" stroke-linejoin="round">pcs</text>
<text x="1147" y="2487.8" font-family="Liberation Sans, sans-serif" font-size="75" font-weight="400" fill="#231F20" text-anchor="middle" textLength="126" lengthAdjust="spacingAndGlyphs" stroke="#231F20" stroke-width="2.4" stroke-linejoin="round">800</text>
<text x="1148.5" y="2559.3" font-family="Liberation Sans, sans-serif" font-size="80" font-weight="400" fill="#231F20" text-anchor="middle" textLength="130" lengthAdjust="spacingAndGlyphs" stroke="#231F20" stroke-width="0.6" stroke-linejoin="round">pcs</text>
<text x="2079" y="2485.1" font-family="Liberation Sans, sans-serif" font-size="72" font-weight="400" fill="#231F20" text-anchor="middle" textLength="156" lengthAdjust="spacingAndGlyphs" stroke="#231F20" stroke-width="2.4" stroke-linejoin="round">1200</text>
<text x="2079" y="2556.4" font-family="Liberation Sans, sans-serif" font-size="80" font-weight="400" fill="#231F20" text-anchor="middle" textLength="132" lengthAdjust="spacingAndGlyphs" stroke="#231F20" stroke-width="0.6" stroke-linejoin="round">pcs</text>
</svg>
</body></html>
